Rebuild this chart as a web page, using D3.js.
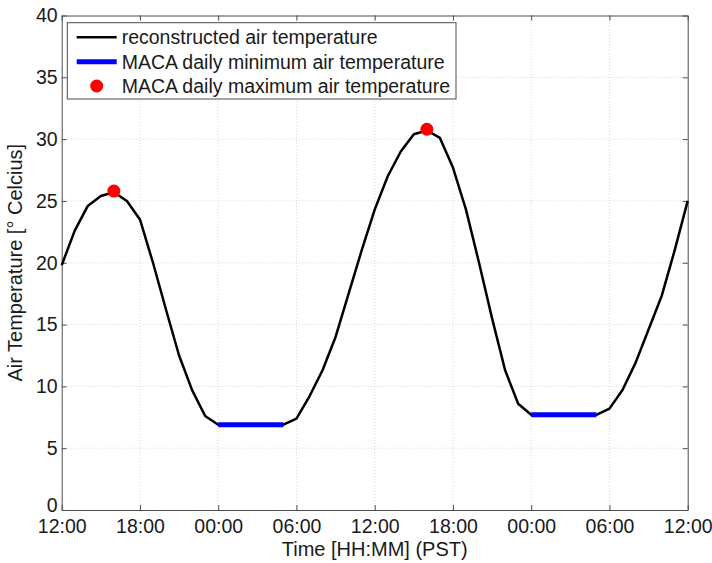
<!DOCTYPE html>
<html>
<head>
<meta charset="utf-8">
<script src="https://cdn.jsdelivr.net/npm/d3@7"></script>
<style>
  body { margin: 0; background: #fff; }
  svg { display: block; font-family: "Liberation Sans", Arial, sans-serif; }
</style>
</head>
<body>
<svg id="chart"></svg>
<script>
// Hourly reconstructed air temperature, starting at 12:00 on day one
const startTime = new Date(2000, 6, 1, 12);
const hourlyTemps = [
  19.8, 22.6, 24.6, 25.4, 25.7, 25.0, 23.5, 20.0, 16.2, 12.5,
  9.7, 7.6, 6.9, 6.9, 6.9, 6.9, 6.9, 6.9, 7.4, 9.2,
  11.3, 14.0, 17.5, 21.0, 24.3, 27.0, 29.0, 30.4, 30.7, 30.1,
  27.7, 24.3, 20.0, 15.5, 11.3, 8.6, 7.7, 7.7, 7.7, 7.7,
  7.7, 7.7, 8.2, 9.7, 11.9, 14.6, 17.3, 21.0, 25.0
];

// MACA daily minimum (held 00:00 - 05:00), hours from start
const minStartHours = [12, 36];
const minEndHours = [17, 41];
const minTemps = [6.9, 7.7];

// MACA daily maximum (at 16:00)
const maxHours = [4, 28];
const maxTemps = [25.8, 30.8];

const yTicks = [0, 5, 10, 15, 20, 25, 30, 35, 40];
const legendLabels = [
  'reconstructed air temperature',
  'MACA daily minimum air temperature',
  'MACA daily maximum air temperature'
];

const width = 712;
const height = 563;
const margin = {top: 15.5, right: 24.3, bottom: 53, left: 61.7};

const atHour = h => d3.timeHour.offset(startTime, h);

const svg = d3.select('#chart')
  .attr('width', width)
  .attr('height', height);

const x = d3.scaleTime()
  .domain([startTime, atHour(48)])
  .range([margin.left, width - margin.right]);

const y = d3.scaleLinear()
  .domain([0, 40])
  .range([height - margin.bottom, margin.top]);

const xTicks = x.ticks(d3.timeHour.every(6));
const axisColor = '#4d4d4d';

// grid, dotted like matlab
const grid = svg.append('g').attr('stroke', '#d4d4d4').attr('stroke-width', 1)
  .attr('stroke-dasharray', '1,2');
grid.selectAll('.gx').data(xTicks.slice(1, -1)).join('line')
  .attr('x1', d => x(d)).attr('x2', d => x(d))
  .attr('y1', y(0)).attr('y2', y(40));
grid.selectAll('.gy').data(yTicks.slice(1, -1)).join('line')
  .attr('x1', x.range()[0]).attr('x2', x.range()[1])
  .attr('y1', d => y(d)).attr('y2', d => y(d));

// axes (ticks inside, mirrored on top and right)
const fmt = d3.timeFormat('%H:%M');
const bottomAxis = svg.append('g')
  .attr('transform', `translate(0,${y(0)})`)
  .call(d3.axisBottom(x).tickValues(xTicks).tickFormat(fmt).tickSizeInner(-5).tickSizeOuter(0).tickPadding(9));
const topAxis = svg.append('g')
  .attr('transform', `translate(0,${y(40)})`)
  .call(d3.axisTop(x).tickValues(xTicks).tickFormat('').tickSizeInner(-5).tickSizeOuter(0));
const leftAxis = svg.append('g')
  .attr('transform', `translate(${x.range()[0]},0)`)
  .call(d3.axisLeft(y).tickValues(yTicks).tickSizeInner(-5).tickSizeOuter(0).tickPadding(4));
const rightAxis = svg.append('g')
  .attr('transform', `translate(${x.range()[1]},0)`)
  .call(d3.axisRight(y).tickValues(yTicks).tickFormat('').tickSizeInner(-5).tickSizeOuter(0));

[bottomAxis, topAxis, leftAxis, rightAxis].forEach(a => {
  a.select('.domain').attr('stroke', axisColor);
  a.selectAll('.tick line').attr('stroke', axisColor);
  a.selectAll('.tick text').attr('fill', '#1a1a1a')
    .style('font-size', '19.5px').style('font-family', '"Liberation Sans", Arial, sans-serif');
});

// the "0" sits right on top of the first time label, lift it a little
leftAxis.selectAll('.tick text').filter(d => d === 0).attr('dy', '0.1em');

// axis titles
svg.append('text')
  .attr('x', (x.range()[0] + x.range()[1]) / 2)
  .attr('y', 556)
  .attr('text-anchor', 'middle')
  .style('font-size', '20px')
  .attr('fill', '#1a1a1a')
  .text('Time [HH:MM] (PST)');

svg.append('text')
  .attr('transform', `translate(22,${(y(0) + y(40)) / 2}) rotate(-90)`)
  .attr('text-anchor', 'middle')
  .style('font-size', '20px')
  .attr('fill', '#1a1a1a')
  .text('Air Temperature [° Celcius]');

// reconstructed curve
const line = d3.line()
  .x((d, i) => x(atHour(i)))
  .y(d => y(d));

svg.append('path')
  .datum(hourlyTemps)
  .attr('fill', 'none')
  .attr('stroke', '#000')
  .attr('stroke-width', 2.5)
  .attr('stroke-linejoin', 'round')
  .attr('d', line);

// daily minimum segments
svg.selectAll('.minseg').data(minTemps).join('line')
  .attr('x1', (d, i) => x(atHour(minStartHours[i])))
  .attr('x2', (d, i) => x(atHour(minEndHours[i])))
  .attr('y1', d => y(d)).attr('y2', d => y(d))
  .attr('stroke', '#0000ff')
  .attr('stroke-width', 5);

// daily maximum points
svg.selectAll('.maxpt').data(maxTemps).join('circle')
  .attr('cx', (d, i) => x(atHour(maxHours[i])))
  .attr('cy', d => y(d))
  .attr('r', 6.5)
  .attr('fill', '#ff0000');

// legend
const legend = svg.append('g');
legend.append('rect')
  .attr('x', 67.3).attr('y', 22.7)
  .attr('width', 388.7).attr('height', 76.3)
  .attr('fill', '#fff')
  .attr('stroke', axisColor)
  .attr('stroke-width', 1);

const rowY = [37.3, 61.7, 86];
legend.append('line')
  .attr('x1', 76.7).attr('x2', 116.7)
  .attr('y1', rowY[0]).attr('y2', rowY[0])
  .attr('stroke', '#000').attr('stroke-width', 2.5);
legend.append('line')
  .attr('x1', 76.7).attr('x2', 116.7)
  .attr('y1', rowY[1]).attr('y2', rowY[1])
  .attr('stroke', '#0000ff').attr('stroke-width', 5);
legend.append('circle')
  .attr('cx', 96.7).attr('cy', rowY[2]).attr('r', 6.5)
  .attr('fill', '#ff0000');

legend.selectAll('.lt').data(legendLabels).join('text')
  .attr('x', 121.7)
  .attr('y', (d, i) => rowY[i])
  .attr('dy', '0.35em')
  .style('font-size', '19.5px')
  .attr('fill', '#1a1a1a')
  .text(d => d);
</script>
</body>
</html>
